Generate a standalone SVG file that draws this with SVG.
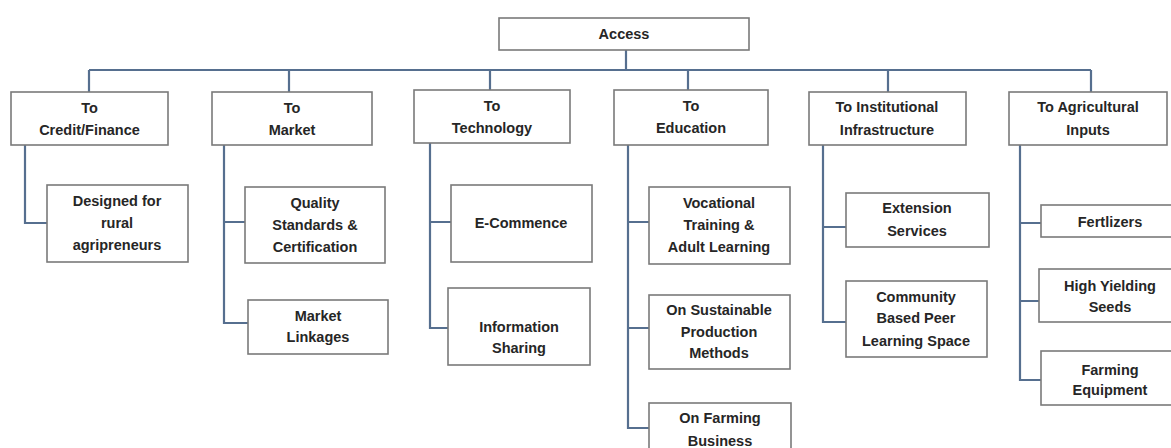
<svg xmlns="http://www.w3.org/2000/svg" width="1171" height="448" viewBox="0 0 1171 448">
<style>
.box{fill:#fff;stroke:#7a7a7a;stroke-width:1.6}
.t{font-family:"Liberation Sans",Arial,sans-serif;font-weight:bold;font-size:14.5px;fill:#262626;text-anchor:middle}
.c{fill:none;stroke:#566f8f;stroke-width:2.2}
</style>
<rect width="1171" height="448" fill="#fff"/>
<g id="connectors">
<path class="c" d="M626,50 V70 M89,70 H1091 M89,70 V92 M289,70 V92 M490,70 V90 M688,70 V90 M888,70 V92 M1091,70 V92"/>
<path class="c" d="M25,145 V223 H47"/>
<path class="c" d="M224,145 V323 H248 M224,222 H245"/>
<path class="c" d="M430,143 V328 H448 M430,222 H451"/>
<path class="c" d="M628,145 V428 H649 M628,222 H649 M628,328 H649"/>
<path class="c" d="M823,145 V322 H846 M823,227 H846"/>
<path class="c" d="M1020,145 V380 H1041 M1020,223 H1041 M1020,301 H1039"/>
</g>
<g id="access"><rect class="box" x="499" y="18" width="250" height="32"/><text class="t" x="624" y="39">Access</text></g>
<g id="credit"><rect class="box" x="11" y="92" width="157" height="53"/><text class="t" x="89.5" y="113">To</text><text class="t" x="89.5" y="135">Credit/Finance</text></g>
<g id="market"><rect class="box" x="212" y="92" width="160" height="53"/><text class="t" x="292" y="113">To</text><text class="t" x="292" y="135">Market</text></g>
<g id="technology"><rect class="box" x="414" y="90" width="156" height="53"/><text class="t" x="492" y="111">To</text><text class="t" x="492" y="133">Technology</text></g>
<g id="education"><rect class="box" x="614" y="90" width="154" height="55"/><text class="t" x="691" y="111">To</text><text class="t" x="691" y="133">Education</text></g>
<g id="institutional"><rect class="box" x="809" y="92" width="157" height="53"/><text class="t" x="887" y="112">To Institutional</text><text class="t" x="887" y="135">Infrastructure</text></g>
<g id="agricultural"><rect class="box" x="1009" y="92" width="158" height="53"/><text class="t" x="1088" y="112">To Agricultural</text><text class="t" x="1088" y="135">Inputs</text></g>
<g id="designed"><rect class="box" x="47" y="185" width="141" height="77"/><text class="t" x="117" y="206">Designed for</text><text class="t" x="117" y="228">rural</text><text class="t" x="117" y="250">agripreneurs</text></g>
<g id="quality"><rect class="box" x="245" y="187" width="140" height="76"/><text class="t" x="315" y="208">Quality</text><text class="t" x="315" y="230">Standards &amp;</text><text class="t" x="315" y="252">Certification</text></g>
<g id="linkages"><rect class="box" x="248" y="300" width="140" height="54"/><text class="t" x="318" y="321">Market</text><text class="t" x="318" y="342">Linkages</text></g>
<g id="ecommence"><rect class="box" x="451" y="185" width="141" height="77"/><text class="t" x="521" y="228">E-Commence</text></g>
<g id="information"><rect class="box" x="448" y="288" width="142" height="77"/><text class="t" x="519" y="332">Information</text><text class="t" x="519" y="353">Sharing</text></g>
<g id="vocational"><rect class="box" x="649" y="187" width="141" height="77"/><text class="t" x="719" y="208">Vocational</text><text class="t" x="719" y="230">Training &amp;</text><text class="t" x="719" y="252">Adult Learning</text></g>
<g id="sustainable"><rect class="box" x="649" y="295" width="141" height="74"/><text class="t" x="719" y="315">On Sustainable</text><text class="t" x="719" y="337">Production</text><text class="t" x="719" y="358">Methods</text></g>
<g id="farmingbusiness"><rect class="box" x="649" y="403" width="142" height="80"/><text class="t" x="720" y="423">On Farming</text><text class="t" x="720" y="446">Business</text></g>
<g id="extension"><rect class="box" x="846" y="193" width="143" height="54"/><text class="t" x="917" y="213">Extension</text><text class="t" x="917" y="236">Services</text></g>
<g id="community"><rect class="box" x="846" y="281" width="141" height="76"/><text class="t" x="916" y="302">Community</text><text class="t" x="916" y="323">Based Peer</text><text class="t" x="916" y="346">Learning Space</text></g>
<g id="fertlizers"><rect class="box" x="1041" y="205" width="140" height="32"/><text class="t" x="1110" y="227">Fertlizers</text></g>
<g id="seeds"><rect class="box" x="1039" y="269" width="140" height="53"/><text class="t" x="1110" y="291">High Yielding</text><text class="t" x="1110" y="312">Seeds</text></g>
<g id="equipment"><rect class="box" x="1041" y="351" width="140" height="54"/><text class="t" x="1110" y="375">Farming</text><text class="t" x="1110" y="395">Equipment</text></g>
</svg>
